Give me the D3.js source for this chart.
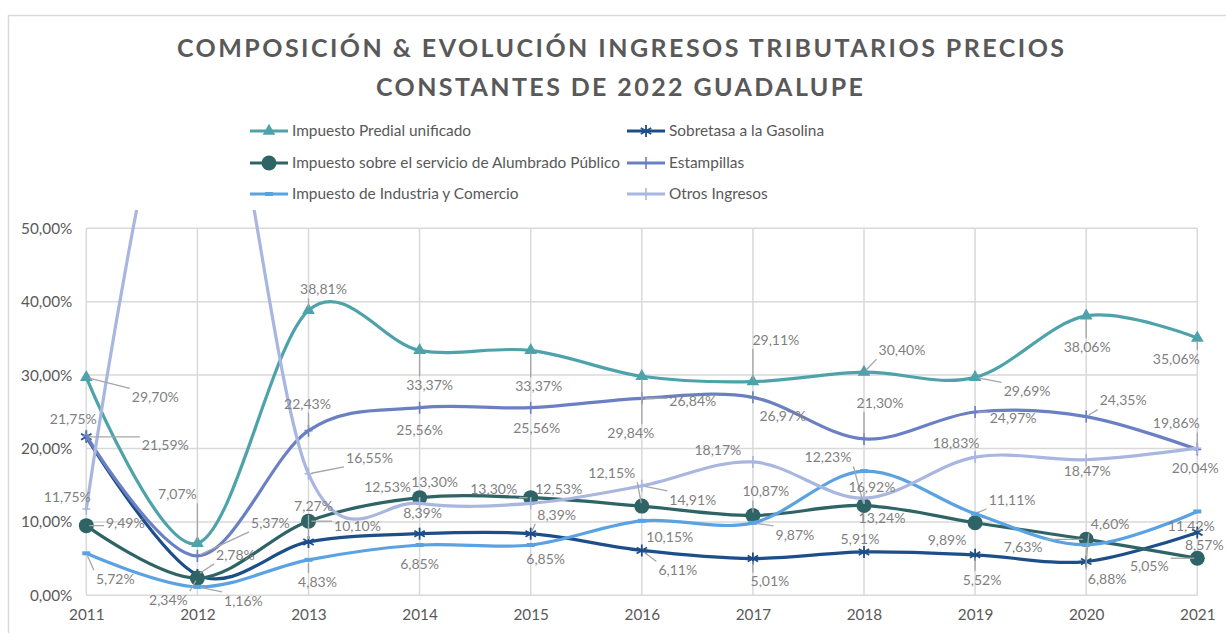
<!DOCTYPE html>
<html>
<head>
<meta charset="utf-8">
<script src="https://cdn.jsdelivr.net/npm/d3@7.9.0/dist/d3.min.js"></script>
<style>
  html, body { margin: 0; padding: 0; background: #fff; }
  svg { display: block; font-family: Lato, "Open Sans", sans-serif; }
</style>
</head>
<body>
<svg id="chart" width="1226" height="633"></svg>
<script>
// data (shares of total, %)
const years = ['2011', '2012', '2013', '2014', '2015', '2016', '2017', '2018', '2019', '2020', '2021'];
const yTicks = [0, 10, 20, 30, 40, 50];

const predial    = [29.70, 7.07, 38.81, 33.37, 33.37, 29.84, 29.11, 30.40, 29.69, 38.06, 35.06];
const sobretasa  = [21.59, 2.78, 7.27, 8.39, 8.39, 6.11, 5.01, 5.91, 5.52, 4.60, 8.57];
const alumbrado  = [9.49, 2.34, 10.10, 13.30, 13.30, 12.15, 10.87, 12.23, 9.89, 7.63, 5.05];
const estampillas = [21.75, 5.37, 22.43, 25.56, 25.56, 26.84, 26.97, 21.30, 24.97, 24.35, 19.86];
const industria  = [5.72, 1.16, 4.83, 6.85, 6.85, 10.15, 9.87, 16.92, 11.11, 6.88, 11.42];
const otros      = [11.75, 81.28, 16.55, 12.53, 12.53, 14.91, 18.17, 13.24, 18.83, 18.47, 20.04];

// label placement: [dx, dy, leader] relative to the point
const predialLbl = [[69,20,1],[-20,-49,1],[15,-21,1],[10,35,1],[8,36,1],[-11,57,1],[23,-42,1],[38,-22,1],[52,14,1],[1,31,1],[-21,21,1]];
const sobretasaLbl = [[79,8,1],[38,-20,1],[5,-36,1],[3,-21,0],[26,-19,1],[36,20,1],[17,23,1],[-4,-13,0],[7,25,1],[24,-37,1],[7,13,0]];
const alumbradoLbl = [[39,-3,1],[-29,22,1],[49,5,1],[15,-16,0],[-37,-9,1],[-30,-33,1],[13,-24,1],[-36,-48,1],[-28,17,0],[-63,8,1],[-48,8,1]];
const estampillasLbl = [[-13,-17,0],[73,-33,1],[-1,-27,1],[0,22,0],[6,20,0],[51,3,1],[30,19,0],[16,-36,1],[38,6,1],[37,-16,1],[-21,-26,1]];
const industriaLbl = [[29,26,1],[46,14,1],[9,22,1],[0,19,0],[15,14,0],[28,16,0],[42,12,1],[8,16,0],[37,-14,1],[21,34,1],[-6,15,0]];
const otrosLbl = [[-19,-12,0],null,[61,-16,1],[-32,-16,0],[28,-14,0],[51,14,1],[-35,-12,0],[18,20,0],[-19,-14,0],[1,11,0],[-2,20,0]];

const series = [
  { name: 'Impuesto Predial unificado', values: predial, labels: predialLbl, color: '#4EA3AA', marker: 'triangle' },
  { name: 'Sobretasa a la Gasolina', values: sobretasa, labels: sobretasaLbl, color: '#1D4E89', marker: 'star' },
  { name: 'Impuesto sobre el servicio de Alumbrado Público', values: alumbrado, labels: alumbradoLbl, color: '#2F6466', marker: 'circle' },
  { name: 'Estampillas', values: estampillas, labels: estampillasLbl, color: '#6B80C4', marker: 'plus' },
  { name: 'Impuesto de Industria y Comercio', values: industria, labels: industriaLbl, color: '#5AA2E2', marker: 'dash' },
  { name: 'Otros Ingresos', values: otros, labels: otrosLbl, color: '#A8B6E0', marker: 'plus' }
];

const svg = d3.select('#chart');
const width = 1226, height = 633;

// chart frame
svg.append('path')
  .attr('d', `M8.5,${height + 5} V15.5 H${width + 5}`)
  .attr('fill', 'none')
  .attr('stroke', '#D9D9D9')
  .attr('stroke-width', 1.5);

// title
const title = svg.append('g')
  .attr('fill', '#595959')
  .style('font-weight', 700)
  .style('font-size', '25px');
title.append('text')
  .attr('x', 177).attr('y', 57)
  .attr('textLength', 887).attr('lengthAdjust', 'spacing')
  .text('COMPOSICIÓN & EVOLUCIÓN INGRESOS TRIBUTARIOS PRECIOS');
title.append('text')
  .attr('x', 376).attr('y', 96)
  .attr('textLength', 487).attr('lengthAdjust', 'spacing')
  .text('CONSTANTES DE 2022 GUADALUPE');

// scales
const x = d3.scalePoint().domain(years).range([86.3, 1197.3]);
const y = d3.scaleLinear().domain([0, 50]).range([595.3, 228.3]);

// gridlines
const grid = svg.append('g').attr('stroke', '#D9D9D9').attr('stroke-width', 1.5);
grid.selectAll('line.h').data(yTicks).join('line')
  .attr('class', 'h')
  .attr('x1', x(years[0])).attr('x2', x(years[years.length - 1]))
  .attr('y1', d => y(d)).attr('y2', d => y(d));
grid.selectAll('line.v').data(years).join('line')
  .attr('class', 'v')
  .attr('x1', d => x(d)).attr('x2', d => x(d))
  .attr('y1', y(50)).attr('y2', y(0));

// axes (labels only, Excel style)
const yAxis = d3.axisLeft(y).tickValues(yTicks).tickSize(0).tickPadding(14)
  .tickFormat(d => d3.format('.2f')(d).replace('.', ',') + '%');
svg.append('g')
  .attr('transform', `translate(${x(years[0])},0)`)
  .call(yAxis)
  .call(g => g.select('.domain').remove())
  .call(g => g.selectAll('text').attr('fill', '#595959').style('font-size', '15.3px').style('font-family', 'Lato'));

const xAxis = d3.axisBottom(x).tickSize(0).tickPadding(14);
svg.append('g')
  .attr('transform', `translate(0,${y(0)})`)
  .call(xAxis)
  .call(g => g.select('.domain').remove())
  .call(g => g.selectAll('text').attr('fill', '#595959').style('font-size', '15.3px').style('font-family', 'Lato'));

// clip for lines that leave the plot
svg.append('clipPath').attr('id', 'plotclip')
  .append('rect').attr('x', 0).attr('y', 210).attr('width', width).attr('height', height - 210);

const line = d3.line()
  .x((d, i) => x(years[i]))
  .y(d => y(d))
  .curve(d3.curveCatmullRom.alpha(0));

function drawMarker(g, type, color) {
  if (type === 'triangle') {
    g.append('path').attr('d', d3.symbol(d3.symbolTriangle, 70)()).attr('fill', color);
  } else if (type === 'circle') {
    g.append('circle').attr('r', 7.5).attr('fill', color);
  } else if (type === 'star') {
    const r = 6;
    const p = d3.range(3).map(k => {
      const a = Math.PI / 2 + k * Math.PI / 3;
      return `M${-r * Math.cos(a)},${-r * Math.sin(a)}L${r * Math.cos(a)},${r * Math.sin(a)}`;
    }).join('');
    g.append('path').attr('d', p).attr('stroke', color).attr('stroke-width', 1.8).attr('fill', 'none');
  } else if (type === 'plus') {
    g.append('path').attr('d', 'M0,-6V6M-4,0H4').attr('stroke', color).attr('stroke-width', 1.6);
  } else if (type === 'dash') {
    g.append('rect').attr('x', -4).attr('y', -2).attr('width', 8).attr('height', 4).attr('fill', color);
  }
}

const plot = svg.append('g').attr('clip-path', 'url(#plotclip)');
series.forEach(s => {
  const g = plot.append('g');
  g.append('path')
    .attr('d', line(s.values))
    .attr('fill', 'none')
    .attr('stroke', s.color)
    .attr('stroke-width', 3.2)
    .attr('stroke-linecap', 'round');
  s.values.forEach((v, i) => {
    if (y(v) < 210) return;
    const m = g.append('g').attr('transform', `translate(${x(years[i])},${y(v)})`);
    drawMarker(m, s.marker, s.color);
  });
});

// data labels with leader lines
const lblLayer = svg.append('g');
const leaderLayer = lblLayer.append('g').attr('stroke', '#A6A6A6').attr('stroke-width', 1.3).attr('fill', 'none');
const fmt = v => d3.format('.2f')(v).replace('.', ',') + '%';
series.forEach(s => {
  s.values.forEach((v, i) => {
    const off = s.labels[i];
    if (!off) return;
    const px = x(years[i]), py = y(v);
    const cx = px + off[0], cy = py + off[1];
    const t = lblLayer.append('text')
      .attr('x', cx).attr('y', cy)
      .attr('text-anchor', 'middle')
      .attr('dy', '0.35em')
      .attr('fill', '#7F7F7F')
      .style('font-size', '14px')
      .text(fmt(v));
    if (off[2]) {
      const w = t.node().getComputedTextLength() / 2 + 2, h = 9;
      const ex = Math.max(cx - w, Math.min(px, cx + w));
      const ey = Math.max(cy - h, Math.min(py, cy + h));
      const dx = ex - px, dy = ey - py;
      const len = Math.hypot(dx, dy);
      if (len > 6) {
        leaderLayer.append('line')
          .attr('x1', px + dx / len * 3).attr('y1', py + dy / len * 3)
          .attr('x2', ex).attr('y2', ey);
      }
    }
  });
});

// legend
const legendCols = [250, 627];
const legendRows = [131, 163, 194];
const legend = svg.append('g');
series.forEach((s, i) => {
  const lx = legendCols[i % 2], ly = legendRows[Math.floor(i / 2)];
  const g = legend.append('g').attr('transform', `translate(${lx},${ly})`);
  g.append('line').attr('x1', 0).attr('x2', 38).attr('stroke', s.color).attr('stroke-width', 3.2);
  const m = g.append('g').attr('transform', 'translate(19,0)');
  drawMarker(m, s.marker, s.color);
  g.append('text')
    .attr('x', 42).attr('dy', '0.35em')
    .attr('fill', '#595959')
    .style('font-size', '15.4px')
    .text(s.name);
});
</script>
</body>
</html>
